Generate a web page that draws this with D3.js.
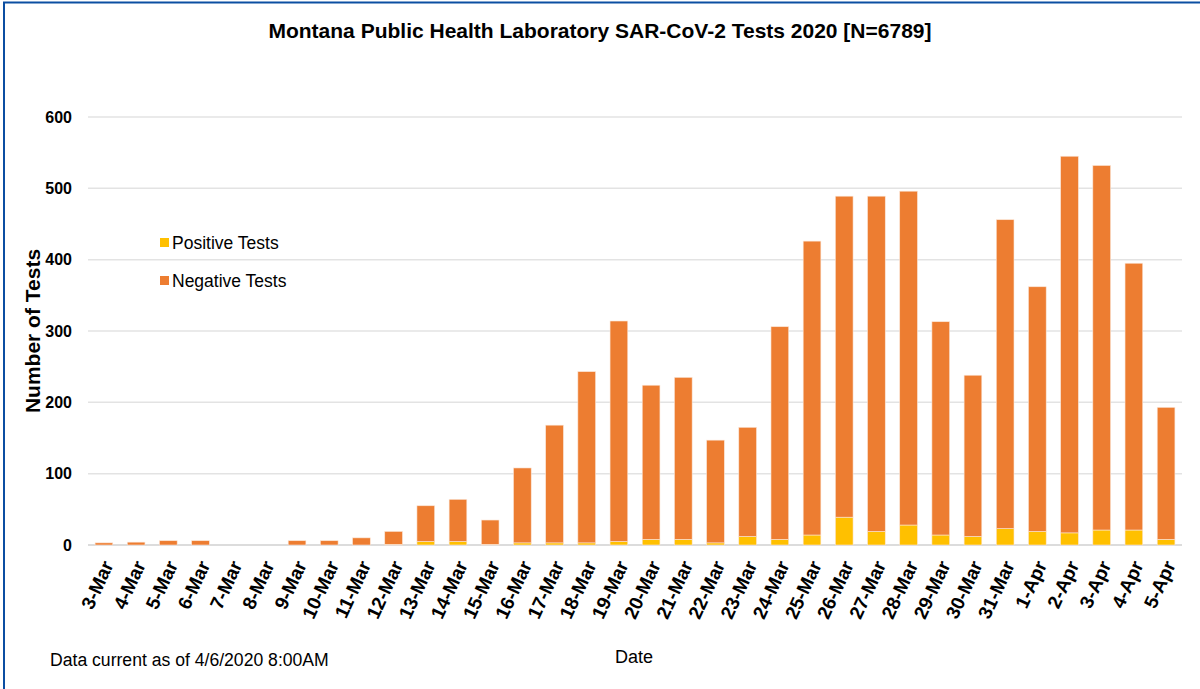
<!DOCTYPE html>
<html>
<head>
<meta charset="utf-8">
<script src="https://cdn.jsdelivr.net/npm/d3@7"></script>
<style>
  body { margin: 0; background: #fff; }
  svg { display: block; }
  text { font-family: "Liberation Sans Narrow", "Arial Narrow", "Liberation Sans", sans-serif; fill: #000; }
</style>
</head>
<body>
<svg id="chart"></svg>
<script>
var dates = ["3-Mar","4-Mar","5-Mar","6-Mar","7-Mar","8-Mar","9-Mar","10-Mar","11-Mar","12-Mar",
  "13-Mar","14-Mar","15-Mar","16-Mar","17-Mar","18-Mar","19-Mar","20-Mar","21-Mar","22-Mar",
  "23-Mar","24-Mar","25-Mar","26-Mar","27-Mar","28-Mar","29-Mar","30-Mar","31-Mar",
  "1-Apr","2-Apr","3-Apr","4-Apr","5-Apr"];

var positive = [0,0,0,0,0,0,0,0,0,1,
  5,5,1,3,3,3,5,8,8,3,
  12,8,14,39,19,28,14,12,23,
  19,17,21,21,8];

var negative = [3,4,6,6,0,0,6,6,10,18,
  50,59,34,105,165,240,309,216,227,144,
  153,298,412,450,470,468,299,226,433,
  343,528,511,374,185];

var yTicks = [0,100,200,300,400,500,600];

var width = 1200, height = 689;
var margin = { top: 117, right: 18, bottom: 144, left: 88 };
var chartWidth = width - margin.left - margin.right;
var chartHeight = height - margin.top - margin.bottom;

var svg = d3.select("#chart")
  .attr("width", width)
  .attr("height", height);

// frame lines (top + left)
svg.append("line").attr("x1", 3).attr("x2", width).attr("y1", 2.5).attr("y2", 2.5)
  .attr("stroke", "#0b4ea2").attr("stroke-width", 2);
svg.append("line").attr("x1", 4).attr("x2", 4).attr("y1", 2).attr("y2", height)
  .attr("stroke", "#0b4ea2").attr("stroke-width", 2);

var x = d3.scaleBand()
  .domain(dates)
  .range([margin.left, margin.left + chartWidth])
  .paddingInner(0.45)
  .paddingOuter(0.22);

var y = d3.scaleLinear()
  .domain([0, 600])
  .range([margin.top + chartHeight, margin.top]);

// gridlines
svg.append("g").selectAll("line")
  .data(yTicks)
  .enter().append("line")
  .attr("x1", margin.left)
  .attr("x2", margin.left + chartWidth)
  .attr("y1", function(d) { return y(d); })
  .attr("y2", function(d) { return y(d); })
  .attr("stroke", function(d) { return d === 0 ? "#d0d0d0" : "#e3e3e3"; })
  .attr("stroke-width", 1.5);

// y axis labels
var yAxis = d3.axisLeft(y).tickValues(yTicks).tickSize(0).tickPadding(16);
svg.append("g")
  .attr("transform", "translate(" + margin.left + ",0)")
  .call(yAxis)
  .call(function(g) { g.select(".domain").remove(); })
  .selectAll("text")
  .style("font-size", "16px")
  .style("font-weight", "bold")
  .style("font-family", "'Liberation Sans Narrow', 'Arial Narrow', sans-serif")
  .attr("fill", "#000");

// stacked bars
var rows = dates.map(function(d, i) {
  return { date: d, positive: positive[i], negative: negative[i] };
});
var stack = d3.stack().keys(["positive", "negative"]);
var series = stack(rows);
var colors = { positive: "#ffc000", negative: "#ed7d31" };

svg.append("g").selectAll("g")
  .data(series)
  .enter().append("g")
  .attr("fill", function(s) { return colors[s.key]; })
  .selectAll("rect")
  .data(function(s) { return s; })
  .enter().append("rect")
  .attr("x", function(d) { return x(d.data.date); })
  .attr("width", x.bandwidth())
  .attr("y", function(d) { return y(d[1]); })
  .attr("height", function(d) { return y(d[0]) - y(d[1]); })
  .attr("stroke", "#fbe5d6")
  .attr("stroke-width", 0.6);

// x axis labels
var xAxis = d3.axisBottom(x).tickSize(0).tickPadding(0);
svg.append("g")
  .attr("transform", "translate(0," + (margin.top + chartHeight) + ")")
  .call(xAxis)
  .call(function(g) { g.select(".domain").remove(); })
  .selectAll("text")
  .style("font-size", "19px")
  .style("font-weight", "bold")
  .style("font-family", "'Liberation Sans Narrow', 'Arial Narrow', sans-serif")
  .attr("fill", "#000")
  .attr("text-anchor", "end")
  .attr("dy", "0.35em")
  .attr("transform", "translate(4,17) rotate(-65)");

// title
svg.append("text")
  .attr("x", 600).attr("y", 38)
  .attr("text-anchor", "middle")
  .style("font-size", "21px")
  .style("font-weight", "bold")
  .text("Montana Public Health Laboratory SAR-CoV-2 Tests 2020 [N=6789]");

// axis titles
svg.append("text")
  .attr("transform", "translate(40," + (margin.top + chartHeight / 2) + ") rotate(-90)")
  .attr("text-anchor", "middle")
  .style("font-size", "21px")
  .style("font-weight", "bold")
  .text("Number of Tests");

svg.append("text")
  .attr("x", 634).attr("y", 663)
  .attr("text-anchor", "middle")
  .style("font-size", "18px")
  .text("Date");

svg.append("text")
  .attr("x", 50).attr("y", 666)
  .style("font-size", "17.6px")
  .text("Data current as of 4/6/2020 8:00AM");

// legend
var legendItems = [
  { label: "Positive Tests", color: colors.positive },
  { label: "Negative Tests", color: colors.negative }
];
var legend = svg.append("g").selectAll("g")
  .data(legendItems)
  .enter().append("g")
  .attr("transform", function(d, i) { return "translate(160," + (243 + i * 38) + ")"; });
legend.append("rect")
  .attr("x", 0).attr("y", -5)
  .attr("width", 9).attr("height", 9)
  .attr("fill", function(d) { return d.color; });
legend.append("text")
  .attr("x", 12).attr("y", 0)
  .attr("dy", "0.35em")
  .style("font-size", "17.5px")
  .text(function(d) { return d.label; });
</script>
</body>
</html>
